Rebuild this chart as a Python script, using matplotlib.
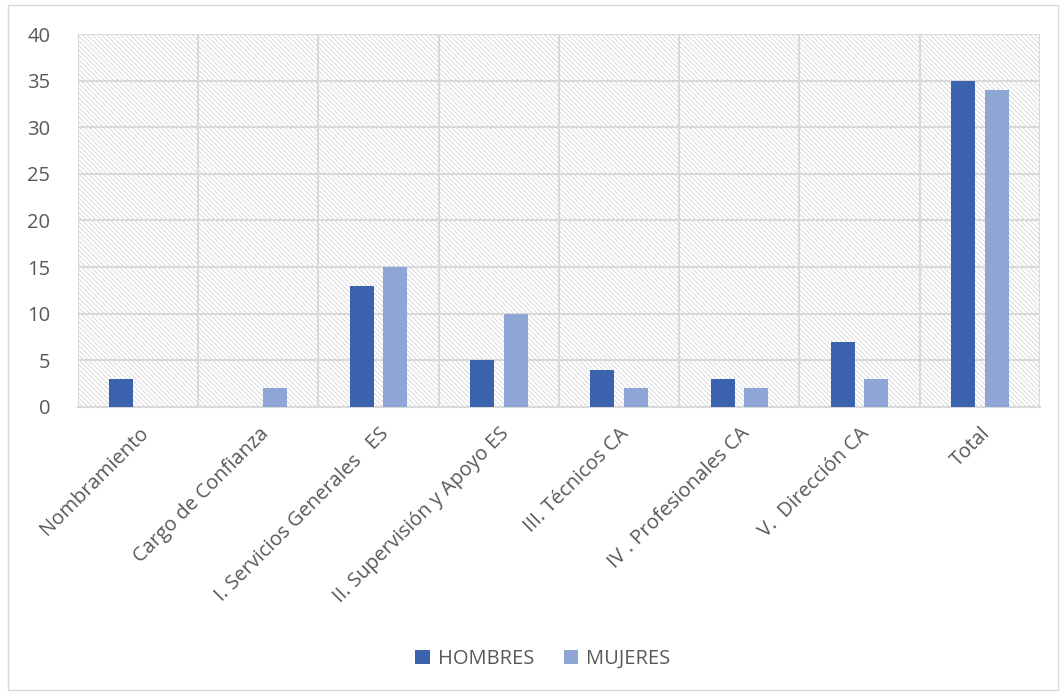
import numpy as np
import matplotlib.pyplot as plt
from matplotlib.patches import Rectangle

categorias = ["Nombramiento", "Cargo de Confianza", "I. Servicios Generales   ES",
              "II. Supervisión y Apoyo ES", "III. Técnicos CA", "IV . Profesionales CA",
              "V.  Dirección CA", "Total"]
hombres = [3, 0, 13, 5, 4, 3, 7, 35]
mujeres = [0, 2, 15, 10, 2, 2, 3, 34]

plt.rcParams['font.family'] = ['Open Sans', 'DejaVu Sans']
plt.rcParams['hatch.color'] = '#d4d4d4'
plt.rcParams['hatch.linewidth'] = 0.6

fig = plt.figure(figsize=(10.63, 6.92), dpi=100)
ax = fig.add_axes([78 / 1063, 1 - 407 / 692, (1040 - 78) / 1063, (407 - 34) / 692])

# outer chart border
fig.add_artist(Rectangle((8 / 1063, 2 / 692), 1050 / 1063, 685 / 692, transform=fig.transFigure,
                         fill=False, edgecolor='#d9d9d9', lw=1))

x = np.arange(len(categorias))
ax.set_xlim(-0.5, len(categorias) - 0.5)
ax.set_ylim(0, 40)

# hatched background
ax.add_patch(Rectangle((-0.5, 0), len(categorias), 40, facecolor='white',
                       edgecolor='#d4d4d4', hatch='\\\\\\\\\\\\\\', lw=0, zorder=0))

for yv in range(5, 41, 5):
    ax.axhline(yv, color='#d9d9d9', lw=1.5, zorder=1)
for xv in np.arange(-0.5, len(categorias) + 0.5, 1):
    ax.axvline(xv, color='#d9d9d9', lw=1.5, zorder=1)

w = 0.2
ax.bar(x - 0.14, hombres, w, color='#3a62ad', label='HOMBRES', zorder=3)
ax.bar(x + 0.14, mujeres, w, color='#8fa5d6', label='MUJERES', zorder=3)

ax.set_yticks(range(0, 41, 5))
ax.set_xticks(x)
ax.set_xticklabels(categorias, rotation=45, ha='right', rotation_mode='anchor')
ax.tick_params(axis='both', length=0, labelsize=14.5, colors='#595959')
ax.tick_params(axis='y', pad=20)
ax.tick_params(axis='x', pad=12)
for s in ax.spines.values():
    s.set_visible(False)
ax.spines['bottom'].set_visible(True)
ax.spines['bottom'].set_color('#d9d9d9')
ax.spines['bottom'].set_linewidth(1.5)

fig.legend(loc='center', bbox_to_anchor=(543 / 1063, 1 - 659 / 692), ncol=2, frameon=False,
           fontsize=14.5, labelcolor='#595959', handlelength=0.7, handleheight=0.7,
           handletextpad=0.4, columnspacing=1.5)

fig.savefig("out.png", dpi=100)
